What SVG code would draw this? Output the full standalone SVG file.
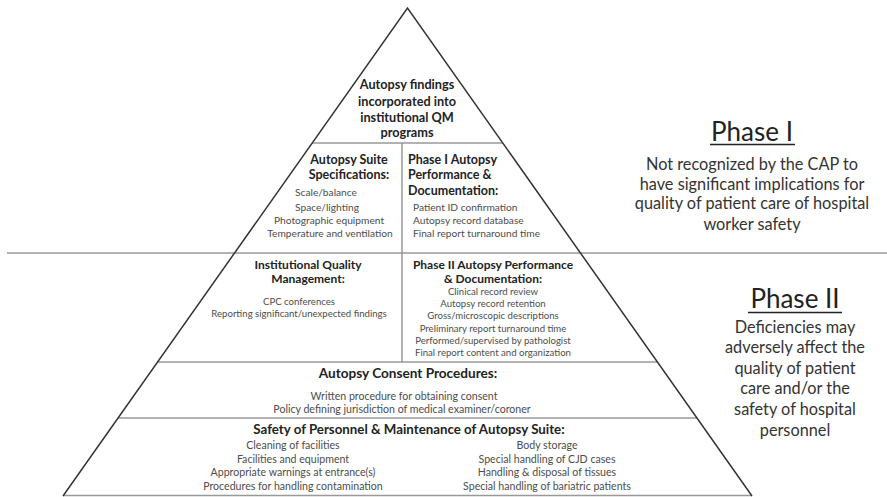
<svg xmlns="http://www.w3.org/2000/svg" width="887" height="497" viewBox="0 0 887 497">
<style>
text{font-family:Lato,"Open Sans","Liberation Sans",sans-serif;text-anchor:middle}
.h{font-weight:bold;font-size:12px;fill:#222}
.ht{font-weight:bold;font-size:12.7px;fill:#222}
.hu{font-weight:bold;font-size:12.5px;fill:#222}
.hc{font-weight:bold;font-size:13.6px;fill:#222}
.hs{font-weight:bold;font-size:13.3px;fill:#222}
.i{font-size:9.6px;fill:#4d4d4d}
.iu{font-size:10.2px;fill:#4d4d4d}
.ib{font-size:10.6px;fill:#4d4d4d}
.l{text-anchor:start}
.pt{font-size:26px;fill:#222}
.pd{font-size:16.3px;fill:#333}
.edge{fill:none;stroke:#333;stroke-width:1.5}
.sep{fill:none;stroke:#999;stroke-width:1.5}
</style>
<rect width="887" height="497" fill="#fff"/>
<g id="connectors">
<line class="sep" x1="7" y1="253" x2="887" y2="253"/>
<line class="sep" x1="312.2" y1="143" x2="502.8" y2="143"/>
<line class="sep" x1="157.6" y1="362" x2="657.4" y2="362"/>
<line class="sep" x1="118" y1="418" x2="697" y2="418"/>
<line class="sep" x1="63" y1="495.5" x2="752" y2="495.5"/>
<line class="sep" x1="402" y1="143" x2="402" y2="362"/>
<path class="edge" d="M63 496 L407.5 8 L752 496"/>
</g>
<g id="top">
<text class="ht" x="407" y="89">Autopsy findings</text>
<text class="ht" x="407" y="106">incorporated into</text>
<text class="ht" x="407" y="122">institutional QM</text>
<text class="ht" x="407" y="137">programs</text>
</g>
<g id="suite-spec">
<text class="hu" x="349" y="164">Autopsy Suite</text>
<text class="hu" x="349" y="179">Specifications:</text>
<text class="iu" x="326" y="196">Scale/balance</text>
<text class="iu" x="327" y="211">Space/lighting</text>
<text class="iu" x="329" y="224">Photographic equipment</text>
<text class="iu" x="330" y="237">Temperature and ventilation</text>
</g>
<g id="phase1-perf">
<text class="hu l" x="408" y="164">Phase I Autopsy</text>
<text class="hu l" x="408" y="179">Performance &amp;</text>
<text class="hu l" x="408" y="195">Documentation:</text>
<text class="iu l" x="413" y="211">Patient ID confirmation</text>
<text class="iu l" x="413" y="224">Autopsy record database</text>
<text class="iu l" x="413" y="237">Final report turnaround time</text>
</g>
<g id="iqm">
<text class="h" x="308" y="269">Institutional Quality</text>
<text class="h" x="308" y="283">Management:</text>
<text class="i" x="299" y="305">CPC conferences</text>
<text class="i" x="299" y="317">Reporting significant/unexpected findings</text>
</g>
<g id="phase2-perf">
<text class="h" x="493" y="269">Phase II Autopsy Performance</text>
<text class="h" x="493" y="283">&amp; Documentation:</text>
<text class="i" x="493" y="295">Clinical record review</text>
<text class="i" x="493" y="307">Autopsy record retention</text>
<text class="i" x="493" y="319">Gross/microscopic descriptions</text>
<text class="i" x="493" y="332">Preliminary report turnaround time</text>
<text class="i" x="493" y="344">Performed/supervised by pathologist</text>
<text class="i" x="493" y="356">Final report content and organization</text>
</g>
<g id="consent">
<text class="hc" x="408" y="378">Autopsy Consent Procedures:</text>
<text class="ib" x="404" y="400">Written procedure for obtaining consent</text>
<text class="ib" x="402" y="413">Policy defining jurisdiction of medical examiner/coroner</text>
</g>
<g id="safety">
<text class="hs" x="409" y="434">Safety of Personnel &amp; Maintenance of Autopsy Suite:</text>
<text class="ib" x="293" y="449">Cleaning of facilities</text>
<text class="ib" x="293" y="463">Facilities and equipment</text>
<text class="ib" x="293" y="476">Appropriate warnings at entrance(s)</text>
<text class="ib" x="293" y="490">Procedures for handling contamination</text>
<text class="ib" x="547" y="449">Body storage</text>
<text class="ib" x="547" y="463">Special handling of CJD cases</text>
<text class="ib" x="547" y="476">Handling &amp; disposal of tissues</text>
<text class="ib" x="547" y="490">Special handling of bariatric patients</text>
</g>
<g id="phase1">
<text class="pt" x="752" y="141">Phase I</text>
<line x1="710" y1="144.5" x2="795" y2="144.5" stroke="#222" stroke-width="1.4"/>
<text class="pd" x="752" y="170">Not recognized by the CAP to</text>
<text class="pd" x="752" y="190">have significant implications for</text>
<text class="pd" x="752" y="209">quality of patient care of hospital</text>
<text class="pd" x="752" y="230">worker safety</text>
</g>
<g id="phase2">
<text class="pt" x="795" y="308">Phase II</text>
<line x1="748" y1="312.5" x2="842" y2="312.5" stroke="#222" stroke-width="1.4"/>
<text class="pd" x="795" y="333">Deficiencies may</text>
<text class="pd" x="795" y="353">adversely affect the</text>
<text class="pd" x="795" y="374">quality of patient</text>
<text class="pd" x="795" y="394">care and/or the</text>
<text class="pd" x="795" y="415">safety of hospital</text>
<text class="pd" x="795" y="436">personnel</text>
</g>
</svg>
